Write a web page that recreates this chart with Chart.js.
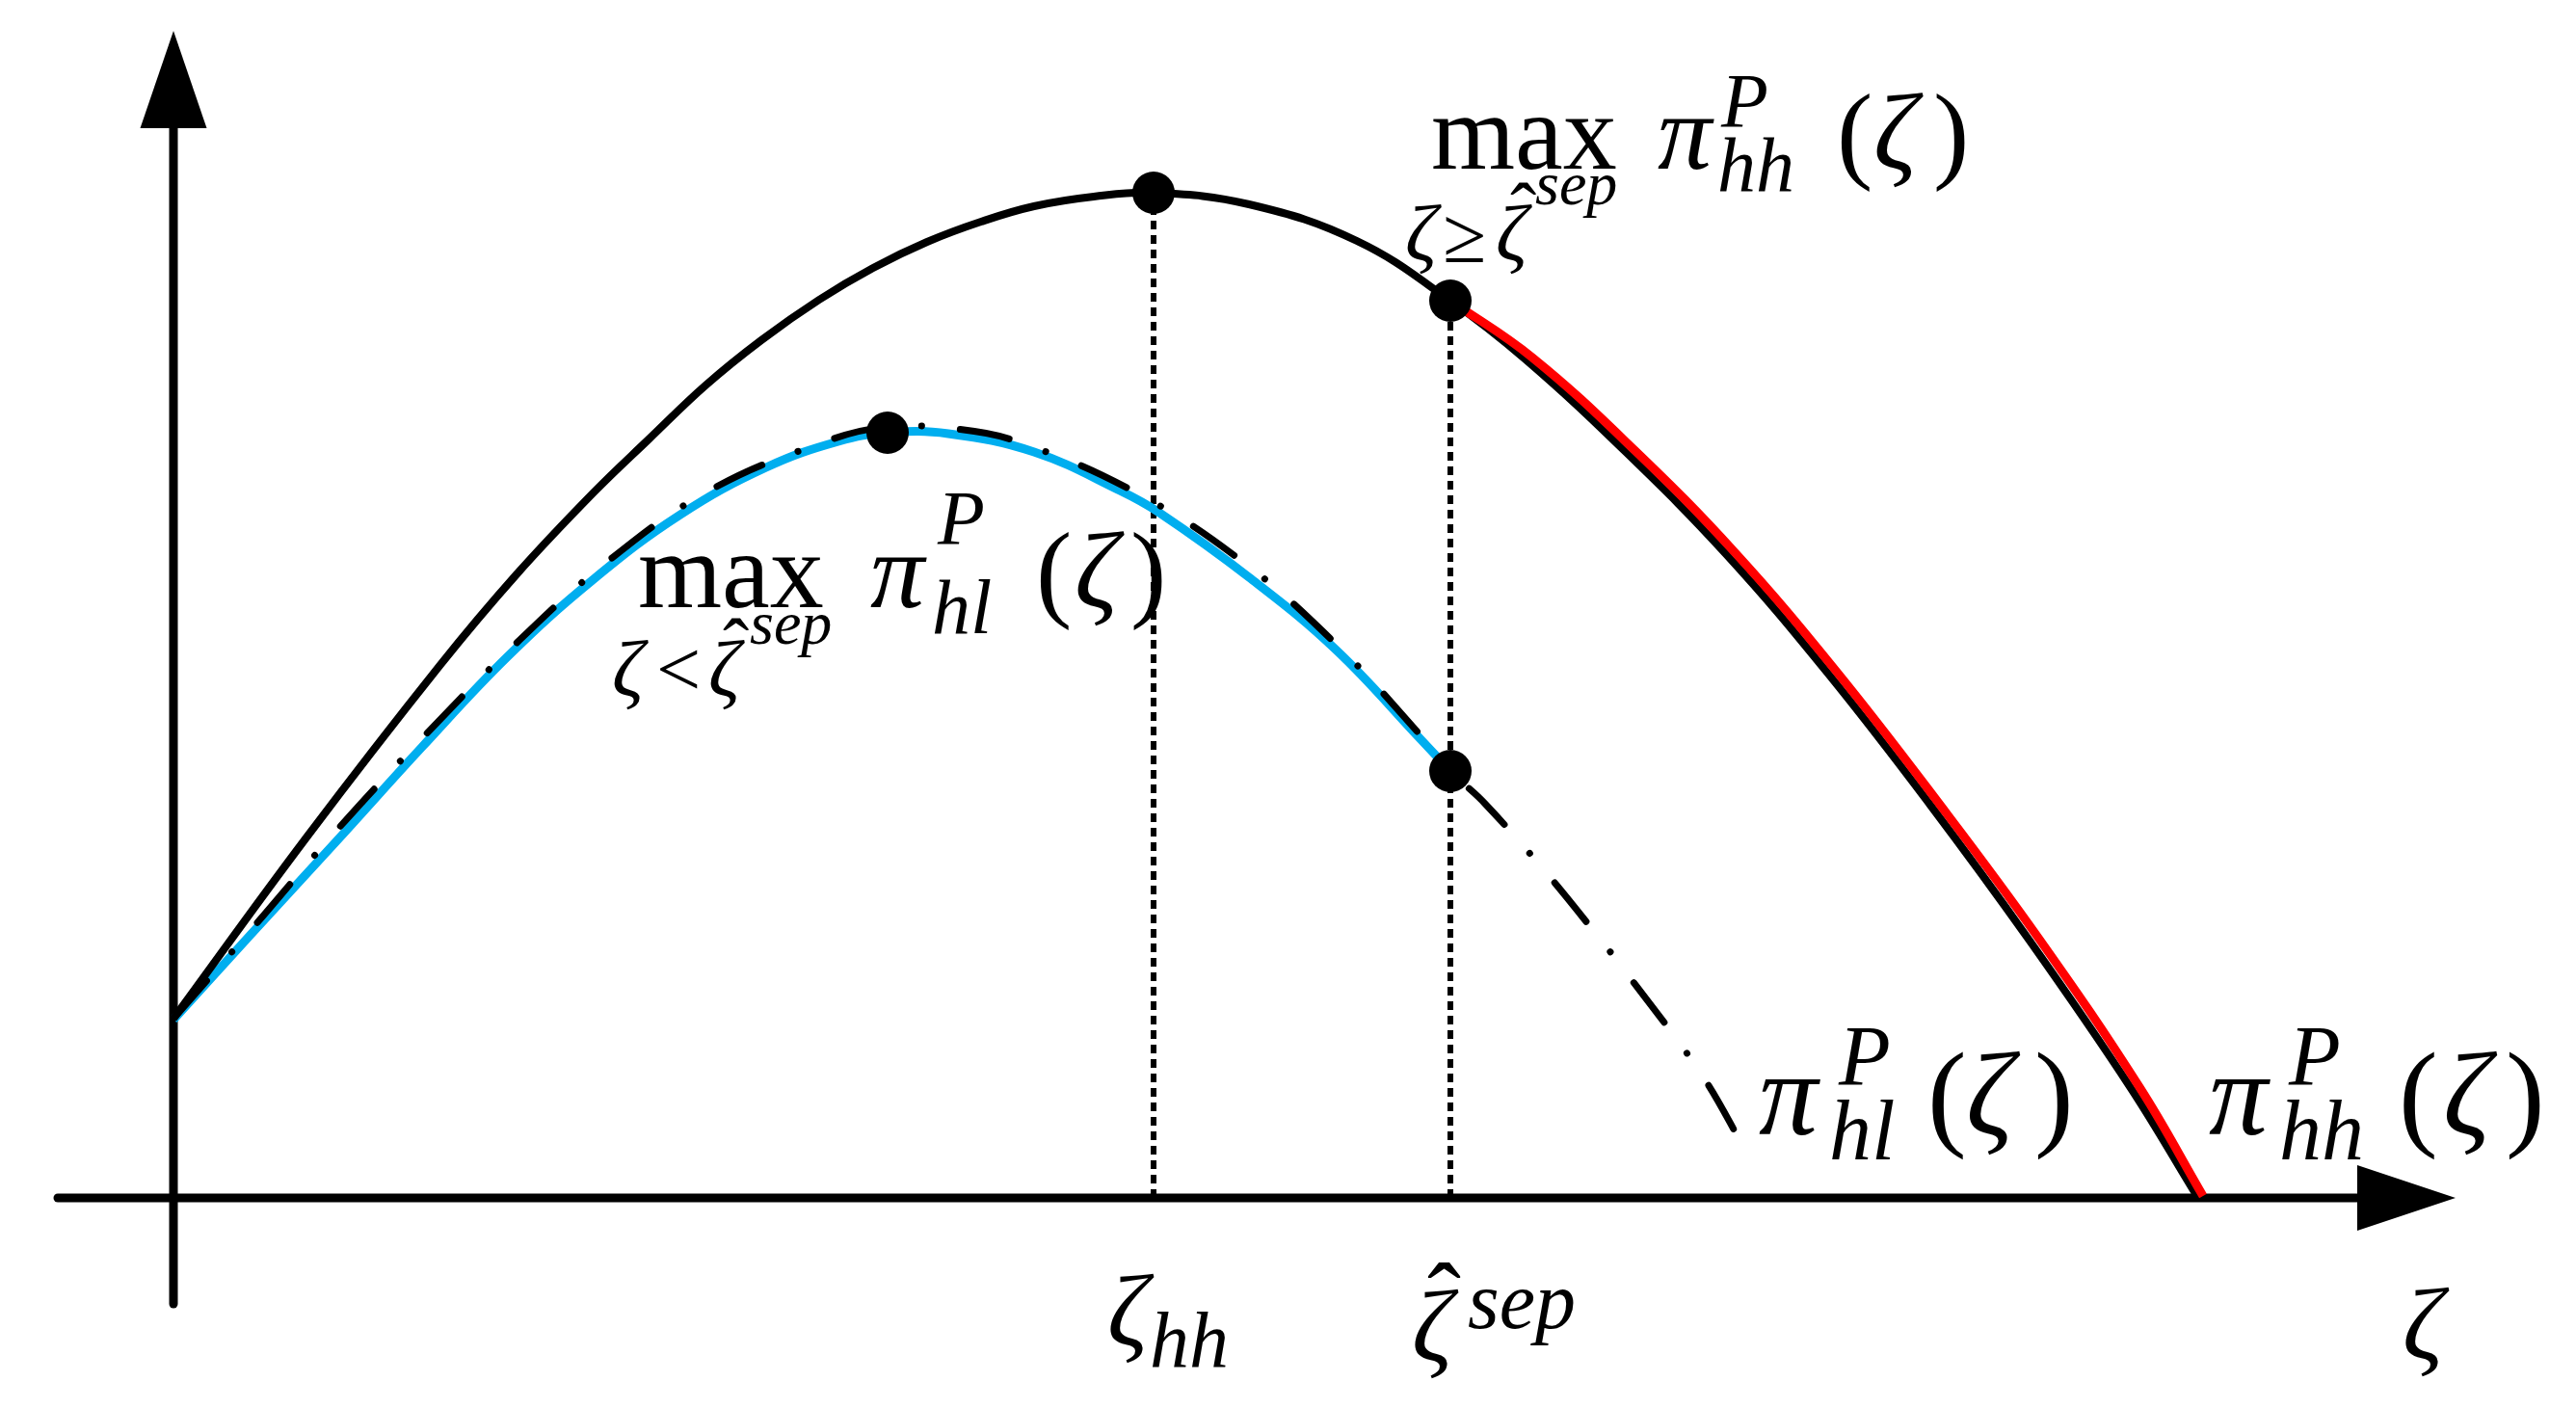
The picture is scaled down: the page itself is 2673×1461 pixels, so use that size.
<!DOCTYPE html>
<html>
<head>
<meta charset="utf-8">
<script src="https://cdn.jsdelivr.net/npm/chart.js@4.4.0/dist/chart.umd.min.js"></script>
<style>
  html, body { margin: 0; padding: 0; background: #fff; }
  canvas { display: block; }
</style>
</head>
<body>
<canvas id="myChart" width="2673" height="1461"></canvas>
<script>
// zeta along the horizontal axis, profit pi along the vertical one (arbitrary units)

// pi_hh^P(zeta) - solid black
const zetaHH = [0, 1.38, 2.76, 3.56, 4.36, 4.94, 5.52, 6.10, 6.70, 7.26, 7.82, 8.38, 8.93, 9.55, 10.17, 11.16, 12.28, 13.25, 14.03, 15.08, 16.12, 17.17, 18.22, 19.26, 20.31, 20.99];
const piHH   = [1.86, 3.74, 5.52, 6.47, 7.32, 7.88, 8.43, 8.90, 9.32, 9.65, 9.92, 10.13, 10.29, 10.39, 10.43, 10.31, 9.93, 9.31, 8.70, 7.73, 6.67, 5.44, 4.09, 2.67, 1.14, 0.03];

// separating branch of pi_hh^P for zeta >= zeta_sep - red
const zetaSep = [13.25, 14.10, 15.16, 16.20, 17.25, 18.30, 19.35, 20.40, 21.06];
const piSep   = [9.31, 8.72, 7.76, 6.70, 5.47, 4.12, 2.70, 1.15, 0.02];

// pi_hl^P(zeta) - dash-dot black
const zetaHL = [0, 0.83, 1.69, 2.59, 3.52, 4.50, 5.58, 6.80, 7.40, 8.11, 8.75, 9.91, 11.03, 12.06, 12.95, 13.25, 13.61, 14.24, 14.84, 15.08, 15.85, 16.32];
const piHL   = [1.86, 2.81, 3.81, 4.78, 5.72, 6.60, 7.35, 7.86, 8.00, 7.98, 7.85, 7.36, 6.65, 5.75, 4.79, 4.43, 4.09, 3.38, 2.64, 2.33, 1.29, 0.48];

// pooling branch for zeta < zeta_sep - blue
const zetaPool = [0, 0.79, 1.69, 2.58, 3.47, 4.36, 5.26, 6.15, 6.90, 7.41, 8.04, 8.93, 9.82, 10.23, 11.16, 12.06, 12.95, 13.25];
const piPool   = [1.85, 2.72, 3.70, 4.68, 5.62, 6.42, 7.09, 7.58, 7.85, 7.94, 7.93, 7.74, 7.34, 7.11, 6.44, 5.69, 4.75, 4.43];

// marked points: peak of pi_hh, pi_hh at zeta_sep, peak of pooling branch, pi_hl at zeta_sep
const markZeta = [10.17, 13.25, 7.41, 13.25];
const markPi   = [10.43, 9.31, 7.94, 4.43];

// special zeta values on the axis
const zetaHHStar = 10.17;
const zetaSepHat = 13.25;

// view window and axis extents
const xMin = -1.80, xMax = 24.93;
const yMin = -2.18, yMax = 12.43;
const xAxisFrom = -1.20, xArrowBase = 22.66, xArrowTip = 23.68, xArrowHalf = 0.34;
const yAxisFrom = -1.10, yArrowBase = 11.10, yArrowTip = 12.11, yArrowHalf = 0.345;

const toPoints = (xs, ys) => xs.map((v, i) => ({ x: v, y: ys[i] }));

const serif = '"Liberation Serif", "Times New Roman", serif';
const HAT = '\u02C6';

// text labels: anchor in data units, runs offset in px from the anchor
const labels = [
  { at: [13.05, 10.68], runs: [
    { t: 'max', s: 112, dx: 0, dy: 0 },
    { t: 'π', s: 112, i: true, dx: 235, dy: 0 },
    { t: 'P', s: 80, i: true, dx: 301, dy: -43 },
    { t: 'hh', s: 80, i: true, dx: 297, dy: 23 },
    { t: '(', s: 112, dx: 421, dy: 0 },
    { t: 'ζ', s: 112, i: true, dx: 459, dy: 0 },
    { t: ')', s: 112, dx: 521, dy: 0 },
    { t: 'ζ', s: 82, i: true, dx: -27, dy: 95 },
    { t: '≥', s: 82, dx: 12, dy: 97 },
    { t: 'ζ', s: 82, i: true, dx: 67, dy: 95 },
    { t: HAT, s: 82, dx: 82, dy: 72 },
    { t: 'sep', s: 64, i: true, dx: 108, dy: 37 }
  ]},
  { at: [4.82, 6.13], runs: [
    { t: 'max', s: 112, dx: 0, dy: 0 },
    { t: 'π', s: 112, i: true, dx: 241, dy: 0 },
    { t: 'P', s: 80, i: true, dx: 311, dy: -65 },
    { t: 'hl', s: 80, i: true, dx: 305, dy: 27 },
    { t: '(', s: 112, dx: 413, dy: 0 },
    { t: 'ζ', s: 112, i: true, dx: 453, dy: 0 },
    { t: ')', s: 112, dx: 511, dy: 0 },
    { t: 'ζ', s: 82, i: true, dx: -27, dy: 92 },
    { t: '<', s: 82, dx: 19, dy: 92 },
    { t: 'ζ', s: 82, i: true, dx: 73, dy: 92 },
    { t: HAT, s: 82, dx: 88, dy: 69 },
    { t: 'sep', s: 64, i: true, dx: 116, dy: 38 }
  ]},
  { at: [16.45, 0.66], runs: [
    { t: 'π', s: 122, i: true, dx: 0, dy: 0 },
    { t: 'P', s: 88, i: true, dx: 83, dy: -52 },
    { t: 'hl', s: 88, i: true, dx: 73, dy: 26 },
    { t: '(', s: 122, dx: 175, dy: 0 },
    { t: 'ζ', s: 122, i: true, dx: 215, dy: 0 },
    { t: ')', s: 122, dx: 286, dy: 0 }
  ]},
  { at: [21.12, 0.66], runs: [
    { t: 'π', s: 122, i: true, dx: 0, dy: 0 },
    { t: 'P', s: 88, i: true, dx: 83, dy: -52 },
    { t: 'hh', s: 88, i: true, dx: 73, dy: 26 },
    { t: '(', s: 122, dx: 197, dy: 0 },
    { t: 'ζ', s: 122, i: true, dx: 243, dy: 0 },
    { t: ')', s: 122, dx: 308, dy: 0 }
  ]},
  { at: [zetaHHStar, -1.53], runs: [
    { t: 'ζ', s: 105, i: true, dx: -48, dy: 0 },
    { t: 'hh', s: 82, i: true, dx: -4, dy: 22 }
  ]},
  { at: [zetaSepHat, -1.53], runs: [
    { t: 'ζ', s: 105, i: true, dx: -40, dy: 16 },
    { t: HAT, s: 105, dx: -24, dy: -12 },
    { t: 'sep', s: 84, i: true, dx: 18, dy: -18 }
  ]},
  { at: [23.13, -1.67], runs: [
    { t: 'ζ', s: 105, i: true, dx: 0, dy: 0 }
  ]}
];

// axes with arrow heads, drawn under the curves
const axisArrows = {
  id: 'axisArrows',
  beforeDatasetsDraw(chart) {
    const { ctx, scales: { x, y } } = chart;
    const x0 = x.getPixelForValue(0);
    const y0 = y.getPixelForValue(0);
    ctx.save();
    ctx.strokeStyle = '#000';
    ctx.fillStyle = '#000';
    ctx.lineWidth = 9;
    ctx.lineCap = 'round';

    ctx.beginPath();
    ctx.moveTo(x0, y.getPixelForValue(yAxisFrom));
    ctx.lineTo(x0, y.getPixelForValue(yArrowBase));
    ctx.stroke();

    ctx.beginPath();
    ctx.moveTo(x.getPixelForValue(xAxisFrom), y0);
    ctx.lineTo(x.getPixelForValue(xArrowBase), y0);
    ctx.stroke();

    // y arrow
    ctx.beginPath();
    ctx.moveTo(x.getPixelForValue(0), y.getPixelForValue(yArrowTip));
    ctx.lineTo(x.getPixelForValue(-yArrowHalf), y.getPixelForValue(yArrowBase));
    ctx.lineTo(x.getPixelForValue(yArrowHalf), y.getPixelForValue(yArrowBase));
    ctx.closePath();
    ctx.fill();

    // x arrow
    ctx.beginPath();
    ctx.moveTo(x.getPixelForValue(xArrowTip), y.getPixelForValue(0));
    ctx.lineTo(x.getPixelForValue(xArrowBase), y.getPixelForValue(xArrowHalf));
    ctx.lineTo(x.getPixelForValue(xArrowBase), y.getPixelForValue(-xArrowHalf));
    ctx.closePath();
    ctx.fill();
    ctx.restore();
  }
};

// math-ish labels
const mathLabels = {
  id: 'mathLabels',
  afterDatasetsDraw(chart) {
    const { ctx, scales: { x, y } } = chart;
    ctx.save();
    ctx.fillStyle = '#000';
    ctx.textBaseline = 'alphabetic';
    ctx.textAlign = 'left';
    labels.forEach(lab => {
      const px = x.getPixelForValue(lab.at[0]);
      const py = y.getPixelForValue(lab.at[1]);
      lab.runs.forEach(r => {
        ctx.font = (r.i ? 'italic ' : '') + r.s + 'px ' + serif;
        ctx.fillText(r.t, px + r.dx, py + r.dy);
      });
    });
    ctx.restore();
  }
};

const ctx = document.getElementById('myChart').getContext('2d');

const chart = new Chart(ctx, {
  type: 'scatter',
  data: {
    datasets: [
      {
        label: 'points',
        data: toPoints(markZeta, markPi),
        showLine: false,
        pointRadius: 22,
        pointHoverRadius: 22,
        pointBackgroundColor: '#000',
        pointBorderWidth: 0,
        order: 0
      },
      {
        label: 'separating',
        data: toPoints(zetaSep, piSep),
        showLine: true,
        borderColor: '#ff0000',
        borderWidth: 9,
        pointRadius: 0,
        tension: 0.4,
        order: 1
      },
      {
        label: 'pi_hh',
        data: toPoints(zetaHH, piHH),
        showLine: true,
        borderColor: '#000',
        borderWidth: 8,
        pointRadius: 0,
        tension: 0.4,
        order: 2
      },
      {
        label: 'pi_hl',
        data: toPoints(zetaHL, piHL),
        showLine: true,
        borderColor: '#000',
        borderWidth: 7,
        borderDash: [52, 40, 0.1, 40],
        borderCapStyle: 'round',
        pointRadius: 0,
        tension: 0.4,
        order: 3
      },
      {
        label: 'pooling',
        data: toPoints(zetaPool, piPool),
        showLine: true,
        borderColor: '#00aeef',
        borderWidth: 9,
        pointRadius: 0,
        tension: 0.4,
        order: 4
      },
      {
        label: 'zeta_hh guide',
        data: toPoints([zetaHHStar, zetaHHStar], [0, markPi[0]]),
        showLine: true,
        borderColor: '#000',
        borderWidth: 6,
        borderDash: [9, 6],
        pointRadius: 0,
        order: 5
      },
      {
        label: 'zeta_sep guide',
        data: toPoints([zetaSepHat, zetaSepHat], [0, markPi[1]]),
        showLine: true,
        borderColor: '#000',
        borderWidth: 6,
        borderDash: [9, 6],
        pointRadius: 0,
        order: 5
      }
    ]
  },
  options: {
    responsive: false,
    animation: false,
    events: [],
    layout: { padding: 0, autoPadding: false },
    plugins: {
      legend: { display: false },
      tooltip: { enabled: false }
    },
    scales: {
      x: { type: 'linear', min: xMin, max: xMax, display: false },
      y: { type: 'linear', min: yMin, max: yMax, display: false }
    }
  },
  plugins: [axisArrows, mathLabels]
});
</script>
</body>
</html>
